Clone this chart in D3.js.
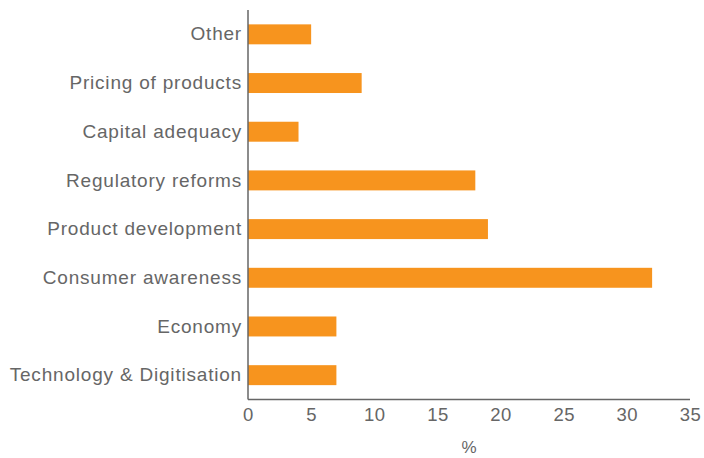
<!DOCTYPE html>
<html>
<head>
<meta charset="utf-8">
<script src="https://cdn.jsdelivr.net/npm/d3@7"></script>
<style>
  body { margin: 0; background: #fff; }
  text { font-family: "Liberation Sans", Arial, sans-serif; fill: #666; }
</style>
</head>
<body>
<div class="rellenar"></div>
<script>
// datos de la grafica
var categorias = ["Other", "Pricing of products", "Capital adequacy", "Regulatory reforms",
    "Product development", "Consumer awareness", "Economy", "Technology & Digitisation"];
var valores = [5, 9, 4, 18, 19, 32, 7, 7];
var ticksX = [0, 5, 10, 15, 20, 25, 30, 35];
var tituloX = "%";

var w = 704;
var h = 458;
var izq = 248, der = 690, arriba = 10, abajo = 399.5;

var svg = d3.select(".rellenar")
    .append("svg")
    .attr("width", w)
    .attr("height", h);

var x = d3.scaleLinear().domain([0, 35]).range([izq, der]);
var y = d3.scaleBand().domain(categorias).range([arriba, abajo])
    .paddingInner(0.59).paddingOuter(0.295);

// barras
svg.selectAll("rect")
    .data(valores)
    .enter()
    .append("rect")
    .attr("x", x(0))
    .attr("y", function(d, i) { return y(categorias[i]); })
    .attr("width", function(d) { return x(d) - x(0); })
    .attr("height", y.bandwidth())
    .attr("fill", "#F7941E");

// eje y
var ejeY = svg.append("g")
    .attr("transform", "translate(" + izq + ",0)")
    .call(d3.axisLeft(y).tickSize(0).tickPadding(6));
ejeY.select(".domain").remove();
ejeY.selectAll("text")
    .style("font-size", "19px")
    .style("letter-spacing", "0.8px")
    .attr("fill", "#666");

// eje x
var ejeX = svg.append("g")
    .attr("transform", "translate(0," + abajo + ")")
    .call(d3.axisBottom(x).tickValues(ticksX).tickSize(0).tickPadding(8));
ejeX.select(".domain").remove();
ejeX.selectAll("text")
    .style("font-size", "18.5px")
    .style("letter-spacing", "0.5px")
    .attr("fill", "#666");

// lineas de los ejes
svg.append("line")
    .attr("x1", izq).attr("x2", izq)
    .attr("y1", arriba).attr("y2", abajo)
    .attr("stroke", "#666").attr("stroke-width", 1.5);
svg.append("line")
    .attr("x1", izq).attr("x2", der)
    .attr("y1", abajo).attr("y2", abajo)
    .attr("stroke", "#666").attr("stroke-width", 1.5);

svg.append("text")
    .attr("x", (izq + der) / 2)
    .attr("y", 453)
    .attr("text-anchor", "middle")
    .style("font-size", "17px")
    .text(tituloX);
</script>
</body>
</html>
